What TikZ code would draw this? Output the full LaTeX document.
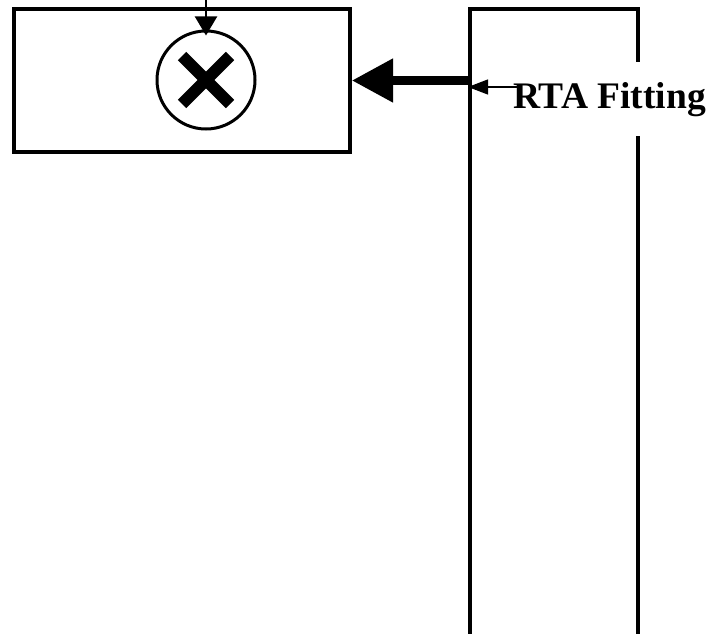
\documentclass[tikz,border=0pt]{standalone}
\usepackage{fontspec}
\setmainfont{Liberation Serif}
\usetikzlibrary{arrows.meta, positioning}

\tikzset{
    frame/.style={draw, line width=4pt, rectangle, inner sep=0pt},
    bigarrow/.style={line width=8pt, -{Triangle[length=41pt, width=42pt]}},
    smallarrow/.style={line width=1.2pt, -{Triangle[length=20pt, width=15pt]}},
    crossbar/.style={line width=12pt},
}

\begin{document}
\begin{tikzpicture}[x=1pt, y=-1pt]
    \useasboundingbox (0,0) rectangle (720,634);

    % Product block
    \node[frame, minimum width=336pt, minimum height=143pt] (mixer) at (182,80.5) {};
    \node[draw, circle, line width=3pt, minimum size=98pt, inner sep=0pt] (mult) at (206,80) {};
    \draw[crossbar] ([shift={(-24,-24)}]mult.center) -- ([shift={(24,24)}]mult.center);
    \draw[crossbar] ([shift={(-24,24)}]mult.center) -- ([shift={(24,-24)}]mult.center);

    % Input from above
    \coordinate (input) at (206,-2);
    \draw[line width=2pt, shorten >=-6pt, -{Triangle[length=19pt, width=22pt]}] (input) -- (mult.north);

    % RTA column (runs off the bottom)
    \node[frame, minimum width=168pt, minimum height=700pt, anchor=north] (rta) at (554,7) {};

    % Label over the right edge
    \node[font=\fontsize{37.5}{45}\selectfont\bfseries, fill=white, inner xsep=0pt, inner ysep=19.5pt, anchor=base west] (fitlabel) at (513,108) {RTA Fitting};

    % Arrows
    \draw[bigarrow] (rta.west |- mixer.east) -- (mixer.east);
    \coordinate (tap) at (517,87);
    \draw[smallarrow] (tap) -- (rta.west |- tap);
\end{tikzpicture}
\end{document}
